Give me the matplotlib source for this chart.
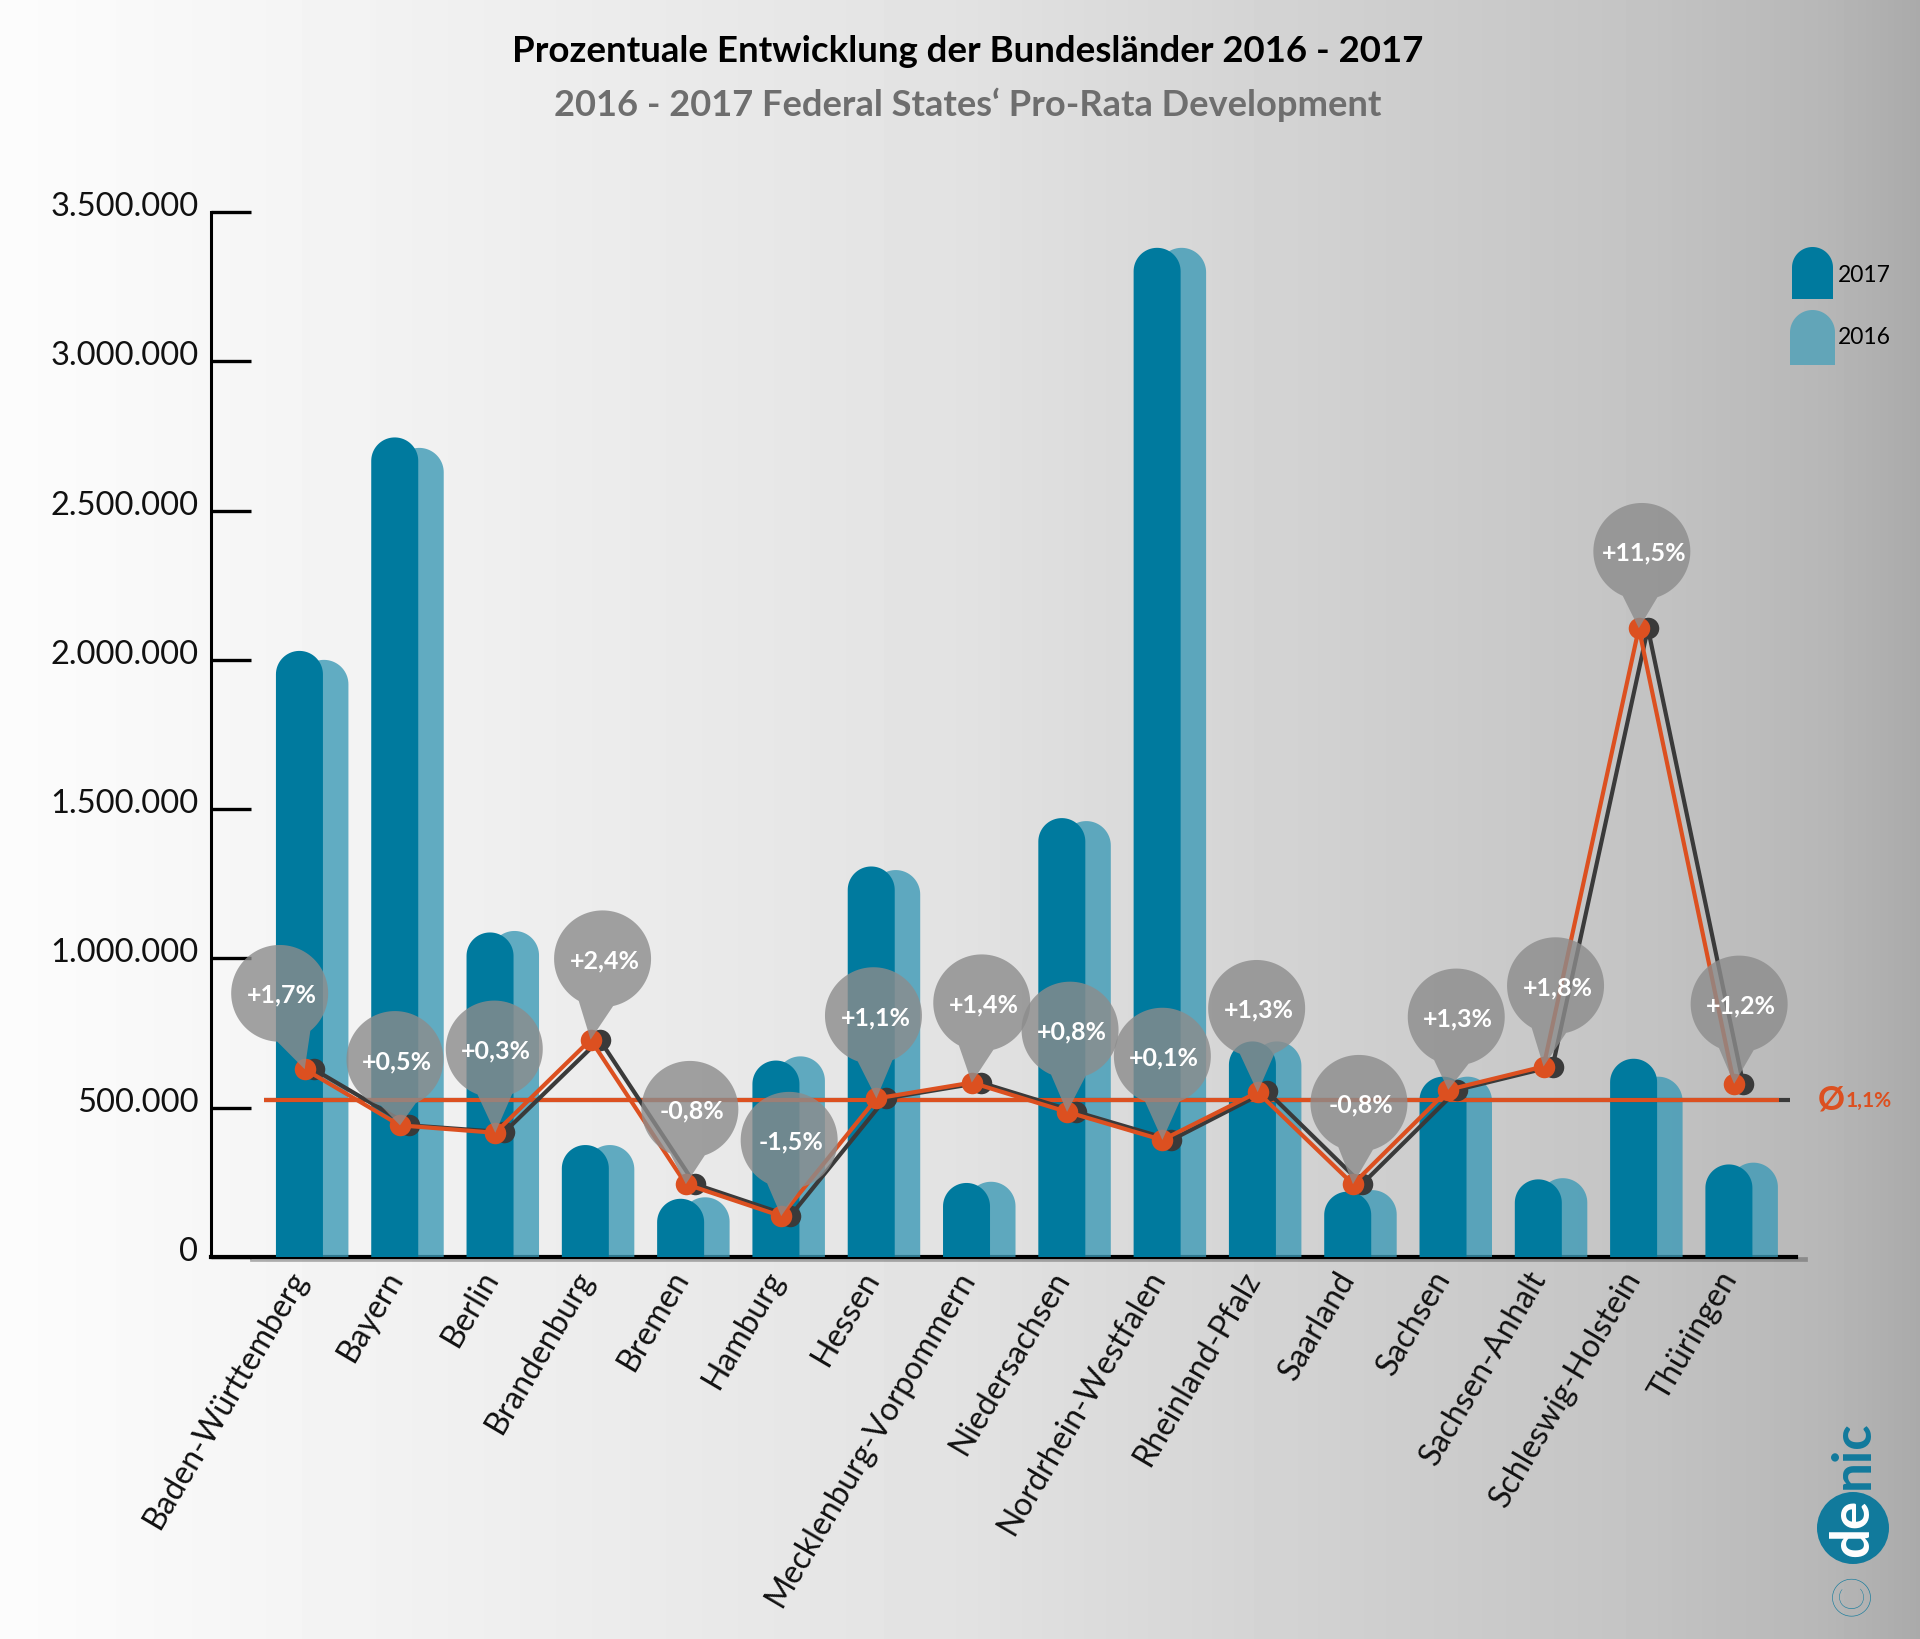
import numpy as np
import matplotlib
matplotlib.use("Agg")
import matplotlib.pyplot as plt
from matplotlib.patches import Ellipse, Polygon
from matplotlib.transforms import ScaledTranslation

plt.rcParams['font.family'] = ['Lato', 'DejaVu Sans']

states = ["Baden-Württemberg", "Bayern", "Berlin", "Brandenburg", "Bremen", "Hamburg",
          "Hessen", "Mecklenburg-Vorpommern", "Niedersachsen", "Nordrhein-Westfalen",
          "Rheinland-Pfalz", "Saarland", "Sachsen", "Sachsen-Anhalt",
          "Schleswig-Holstein", "Thüringen"]

bars_2017 = [2030000, 2745000, 1087000, 375000, 195000, 658000, 1308000, 248000,
             1470000, 3380000, 722000, 219000, 604000, 260000, 664000, 310000]
bars_2016 = [2000000, 2710000, 1092000, 375000, 200000, 672000, 1296000, 252000,
             1460000, 3380000, 722000, 224000, 604000, 264000, 604000, 316000]

line_2017 = [629000, 441000, 416000, 728000, 244000, 137000, 531000, 584000,
             486000, 392000, 552000, 244000, 560000, 638000, 2106000, 580000]
line_2016 = [629000, 441000, 418000, 728000, 244000, 137000, 531000, 584000,
             486000, 392000, 556000, 244000, 560000, 638000, 2106000, 580000]

changes = ["+1,7%", "+0,5%", "+0,3%", "+2,4%", "-0,8%", "-1,5%", "+1,1%", "+1,4%",
           "+0,8%", "+0,1%", "+1,3%", "-0,8%", "+1,3%", "+1,8%", "+11,5%", "+1,2%"]

average = 525000
y_ticks = [0, 500000, 1000000, 1500000, 2000000, 2500000, 3000000, 3500000]
y_labels = ["0", "500.000", "1.000.000", "1.500.000", "2.000.000", "2.500.000",
            "3.000.000", "3.500.000"]

# where each callout sits relative to its tip, in pixels
bubble_dx = [-25, -5, -1, 12, 4, 8, -3, 10, 3, 0, -1, 6, 8, 12, 3, 5]
bubble_dy = [76, 66, 84, 81, 75, 76, 83, 80, 82, 84, 84, 81, 73, 81, 77, 80]

DARK = "#007a9e"
LIGHT = "#3d9ab6"
ORANGE = "#dc5020"
GREY = "#3a3a3a"

# size of one pixel in data units
PX = 1 / 95.3
PY = 500000 / 149.6

fig = plt.figure(figsize=(19.2, 16.39), dpi=100)

# background
bg = fig.add_axes([0, 0, 1, 1], zorder=-1)
grad = np.interp(np.linspace(0, 1, 960), [0, 0.12, 0.5, 0.7, 0.85, 0.95, 1],
                 [252, 246, 226, 208, 196, 183, 170]) / 255
bg.imshow(grad[None, :], cmap="gray", vmin=0, vmax=1, aspect="auto")
bg.axis("off")

ax = fig.add_axes([211 / 1920, 1 - 1257 / 1639, (1806 - 211) / 1920, (1257 - 212) / 1639])
ax.patch.set_alpha(0)
x = np.arange(len(states))
ax.set_xlim(-0.928, 15.809)
ax.set_ylim(0, 3500000)


def arch(xc, w, h, **kw):
    # bar with a round top, w in pixels
    rx = w / 2 * PX
    ry = w / 2 * PY
    t = np.linspace(np.pi, 0, 40)
    xs = np.r_[xc - rx, xc + rx * np.cos(t), xc + rx]
    ys = np.r_[0, h - ry + ry * np.sin(t), 0]
    ax.fill(xs, ys, lw=0, **kw)


for i in x:
    arch(i + 0.257, 49, bars_2016[i], color=LIGHT, alpha=0.8, zorder=3)
    arch(i, 47, bars_2017[i], color=DARK, zorder=4)

# axis
for s in ["top", "right"]:
    ax.spines[s].set_visible(False)
ax.spines["left"].set_linewidth(2.2)
ax.spines["bottom"].set_linewidth(3)
ax.spines["bottom"].set_bounds(-0.928, 15.7)
ax.plot([-0.5, 15.8], [-8000, -8000], color="#555555", alpha=0.45, lw=3.4, zorder=1, clip_on=False)
ax.set_yticks(y_ticks, y_labels)
ax.tick_params(axis="y", direction="in", length=29, width=2.4, pad=9, labelsize=23.5, labelcolor="#111111")
shift = ScaledTranslation(0, 8 / 100, fig.dpi_scale_trans)
for lab in ax.get_yticklabels():
    lab.set_transform(lab.get_transform() + shift)
ax.set_xticks(x + 0.01, states, rotation=59.5, ha="right", va="center", rotation_mode="anchor")
ax.tick_params(axis="x", length=0, pad=12, labelsize=23, labelcolor="#111111")

# average line
ax.plot([-0.37, 15.64], [average, average], color=GREY, lw=3, zorder=5, solid_capstyle="butt")
ax.plot([-0.37, 15.53], [average, average], color=ORANGE, lw=3, zorder=5, solid_capstyle="butt")

# lines
ax.plot(x + 0.15, line_2016, color=GREY, lw=3, marker="o", ms=15.5, mew=0, zorder=6)
ax.plot(x + 0.055, line_2017, color=ORANGE, lw=3, marker="o", ms=15.5, mew=0, zorder=7)

# callouts: one shape, circle plus tip, so the transparency stays even
r = 48.5
spread = np.radians(21)
for i in x:
    tip_x, tip_y = i + 0.055, line_2017[i]
    cx = tip_x + bubble_dx[i] * PX
    cy = tip_y + bubble_dy[i] * PY
    to_tip = np.arctan2(-bubble_dy[i], -bubble_dx[i])
    t = np.linspace(to_tip + spread, to_tip + 2 * np.pi - spread, 90)
    xs = np.r_[tip_x, cx + r * np.cos(t) * PX]
    ys = np.r_[tip_y, cy + r * np.sin(t) * PY]
    ax.add_patch(Polygon(np.c_[xs, ys], fc="#8c8c8c", ec="none", alpha=0.8, zorder=8))
    ax.text(cx + 2 * PX, cy - 2 * PY, changes[i], color="white", fontsize=18, fontweight="bold",
            ha="center", va="center", zorder=9)

# title
fig.text(968 / 1920, 1 - 51 / 1639, "Prozentuale Entwicklung der Bundesländer 2016 - 2017",
         fontsize=26.4, fontweight="bold", color="black", ha="center", va="center")
fig.text(968 / 1920, 1 - 105 / 1639, "2016 - 2017 Federal States‘ Pro-Rata Development",
         fontsize=26.1, fontweight="bold", color="#6e6e6e", ha="center", va="center")

# legend, logo etc in pixel coordinates
fg = fig.add_axes([0, 0, 1, 1], zorder=5)
fg.set_xlim(0, 1920)
fg.set_ylim(1639, 0)
fg.axis("off")


def key(x0, x1, top, bottom, color):
    rad = (x1 - x0) / 2
    t = np.linspace(np.pi, 0, 40)
    xs = np.r_[x0, x0 + rad + rad * np.cos(t), x1]
    ys = np.r_[bottom, top + rad - rad * np.sin(t), bottom]
    fg.fill(xs, ys, color=color, lw=0)


key(1792, 1833, 247, 299, DARK)
key(1790, 1835, 310, 365, "#62a5b8")
fg.text(1838, 275, "2017", fontsize=16.5, color="black", va="center")
fg.text(1838, 337, "2016", fontsize=16.5, color="black", va="center")

fg.text(1818, 1100, "Ø", fontsize=24, fontweight="bold", color=ORANGE, va="center")
fg.text(1846, 1101, "1,1%", fontsize=15, fontweight="bold", color=ORANGE, va="center")

LOGO = "#117a9c"
fg.add_patch(Ellipse((1853, 1528), 72, 72, fc=LOGO, ec="none"))
fg.text(1853, 1528, "de", color="white", fontsize=38, fontweight="bold", rotation=90,
        ha="center", va="center")
fg.text(1853, 1455, "nic", color=LOGO, fontsize=38, fontweight="bold", rotation=90,
        ha="center", va="center")
fg.text(1853, 1594, "©", color=LOGO, fontsize=38, fontweight="light", rotation=90,
        ha="center", va="center")

fig.savefig("out.png", dpi=100)
